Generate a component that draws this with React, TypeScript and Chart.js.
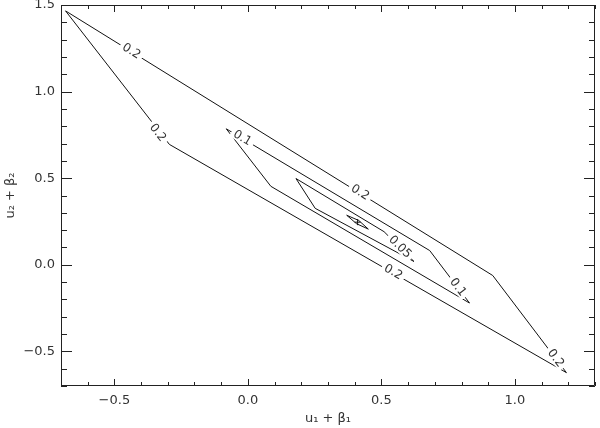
import React, { useEffect, useRef } from 'react';
import { Chart, registerables } from 'chart.js';

Chart.register(...registerables);

// Tick labels
const xTicks = [-0.5, 0.0, 0.5, 1.0];
const yTicks = [-0.5, 0.0, 0.5, 1.0, 1.5];

// Contour level 0.2 (outer)
const c02X = [-0.683, 0.917, 1.193, -0.294, -0.683];
const c02Y = [1.466, -0.062, -0.623, 0.695, 1.466];
// Contour level 0.1
const c01X = [-0.081, 0.681, 0.830, 0.086, -0.081];
const c01Y = [0.785, 0.082, -0.221, 0.453, 0.785];
// Contour level 0.05
const c005X = [0.180, 0.510, 0.622, 0.252, 0.180];
const c005Y = [0.498, 0.191, 0.019, 0.326, 0.498];
// Innermost contour
const cInX = [0.370, 0.415, 0.451, 0.407, 0.370];
const cInY = [0.286, 0.256, 0.206, 0.237, 0.286];
// Minimum marker
const minX = [0.411];
const minY = [0.246];

// Contour labels
const labelText = ['0.2', '0.2', '0.1', '0.2', '0.05', '0.1', '0.2', '0.2'];
const labelX = [-0.437, -0.338, -0.021, 0.420, 0.569, 0.786, 0.544, 1.152];
const labelY = [1.232, 0.762, 0.731, 0.417, 0.102, -0.130, -0.043, -0.540];
const labelContour = [0, 0, 1, 0, 2, 1, 0, 0];
const labelSeg = [0, 3, 0, 0, 1, 1, 2, 1];

const contours = [
  { x: c02X, y: c02Y },
  { x: c01X, y: c01Y },
  { x: c005X, y: c005Y },
  { x: cInX, y: cInY },
];

const FONT = '"DejaVu Sans", sans-serif';
const TEXT = '#333';

const fmt = (v: number) => (v < 0 ? '\u2212' : '') + Math.abs(v).toFixed(1);

const framePlugin = {
  id: 'frameTicks',
  afterDatasetsDraw(chart: any) {
    const ctx = chart.ctx;
    const xs = chart.scales.x;
    const ys = chart.scales.y;
    ctx.save();
    ctx.font = `12px ${FONT}`;
    ctx.textAlign = 'center';
    ctx.textBaseline = 'middle';
    labelText.forEach((t, i) => {
      const c = contours[labelContour[i]];
      const s = labelSeg[i];
      const p1x = xs.getPixelForValue(c.x[s]);
      const p1y = ys.getPixelForValue(c.y[s]);
      const p2x = xs.getPixelForValue(c.x[s + 1]);
      const p2y = ys.getPixelForValue(c.y[s + 1]);
      let a = Math.atan2(p2y - p1y, p2x - p1x);
      if (a > Math.PI / 2) a -= Math.PI;
      if (a < -Math.PI / 2) a += Math.PI;
      const px = xs.getPixelForValue(labelX[i]);
      const py = ys.getPixelForValue(labelY[i]);
      ctx.save();
      ctx.translate(px, py);
      ctx.rotate(a);
      const w = ctx.measureText(t).width + 6;
      ctx.fillStyle = '#fff';
      ctx.fillRect(-w / 2, -5, w, 10);
      ctx.fillStyle = TEXT;
      ctx.fillText(t, 0, 0);
      ctx.restore();
    });
    ctx.restore();
  },
  afterDraw(chart: any) {
    const ctx = chart.ctx;
    const { left, right, top, bottom } = chart.chartArea;
    const xs = chart.scales.x;
    const ys = chart.scales.y;
    ctx.save();
    ctx.strokeStyle = '#222';
    ctx.lineWidth = 1;
    ctx.beginPath();
    ctx.rect(Math.round(left) + 0.5, Math.round(top) + 0.5, Math.round(right - left) - 1, Math.round(bottom - top) - 1);
    ctx.stroke();
    ctx.beginPath();
    for (let k = Math.ceil(xs.min * 10 - 1e-6); k <= Math.floor(xs.max * 10 + 1e-6); k++) {
      const px = Math.round(xs.getPixelForValue(k / 10)) + 0.5;
      const len = k % 5 === 0 ? 7 : 4;
      ctx.moveTo(px, bottom);
      ctx.lineTo(px, bottom - len);
      ctx.moveTo(px, top);
      ctx.lineTo(px, top + len);
    }
    for (let k = Math.ceil(ys.min * 10 - 1e-6); k <= Math.floor(ys.max * 10 + 1e-6); k++) {
      const py = Math.round(ys.getPixelForValue(k / 10)) + 0.5;
      const len = k % 5 === 0 ? 11 : 6;
      ctx.moveTo(left, py);
      ctx.lineTo(left + len, py);
      ctx.moveTo(right, py);
      ctx.lineTo(right - len, py);
    }
    ctx.stroke();
    ctx.restore();
  },
};

const lineDs = (xs: number[], ys: number[]) => ({
  data: xs.map((x, i) => ({ x, y: ys[i] })),
  showLine: true,
  borderColor: '#111',
  borderWidth: 1,
  pointRadius: 0,
  fill: false,
  tension: 0,
});

export default function App() {
  const ref = useRef<HTMLCanvasElement>(null);
  useEffect(() => {
    if (!ref.current) return;
    const chart = new Chart(ref.current, {
      type: 'scatter',
      data: {
        datasets: [
          lineDs(c02X, c02Y),
          lineDs(c01X, c01Y),
          lineDs(c005X, c005Y),
          lineDs(cInX, cInY),
          {
            data: minX.map((x, i) => ({ x, y: minY[i] })),
            pointStyle: 'cross',
            pointRadius: 3,
            borderColor: '#111',
            borderWidth: 1,
            showLine: false,
          } as any,
        ],
      },
      options: {
        animation: false,
        responsive: true,
        maintainAspectRatio: false,
        layout: { padding: { left: 0, right: 2, top: 5, bottom: 0 } },
        plugins: { legend: { display: false }, tooltip: { enabled: false } },
        scales: {
          x: {
            type: 'linear',
            min: -0.7,
            max: 1.3,
            afterBuildTicks: (s: any) => {
              s.ticks = xTicks.map((v) => ({ value: v }));
            },
            afterFit: (s: any) => {
              s.height = 42;
              s.paddingLeft = 0;
              s.paddingRight = 0;
            },
            grid: { display: false, drawTicks: false },
            border: { display: false },
            ticks: {
              callback: (v: any) => fmt(Number(v)),
              font: { family: FONT, size: 13 },
              color: TEXT,
              padding: 7,
              maxRotation: 0,
            },
            title: {
              display: true,
              text: 'u\u2081 + \u03b2\u2081',
              font: { family: FONT, size: 13 },
              color: TEXT,
              padding: { top: 0, bottom: 2 },
            },
          },
          y: {
            type: 'linear',
            min: -0.7,
            max: 1.5,
            afterBuildTicks: (s: any) => {
              s.ticks = yTicks.map((v) => ({ value: v }));
            },
            afterFit: (s: any) => {
              s.width = 61;
              s.paddingTop = 0;
              s.paddingBottom = 0;
            },
            grid: { display: false, drawTicks: false },
            border: { display: false },
            ticks: {
              callback: (v: any) => fmt(Number(v)),
              font: { family: FONT, size: 13 },
              color: TEXT,
              padding: 6,
            },
            title: {
              display: true,
              text: 'u\u2082 + \u03b2\u2082',
              font: { family: FONT, size: 13 },
              color: TEXT,
              padding: { top: 3, bottom: 0 },
            },
          },
        },
      },
      plugins: [framePlugin],
    });
    return () => chart.destroy();
  }, []);
  return (
    <div style={{ position: 'fixed', left: 0, top: 0, width: 600, height: 428, background: '#fff' }}>
      <canvas ref={ref} />
    </div>
  );
}
